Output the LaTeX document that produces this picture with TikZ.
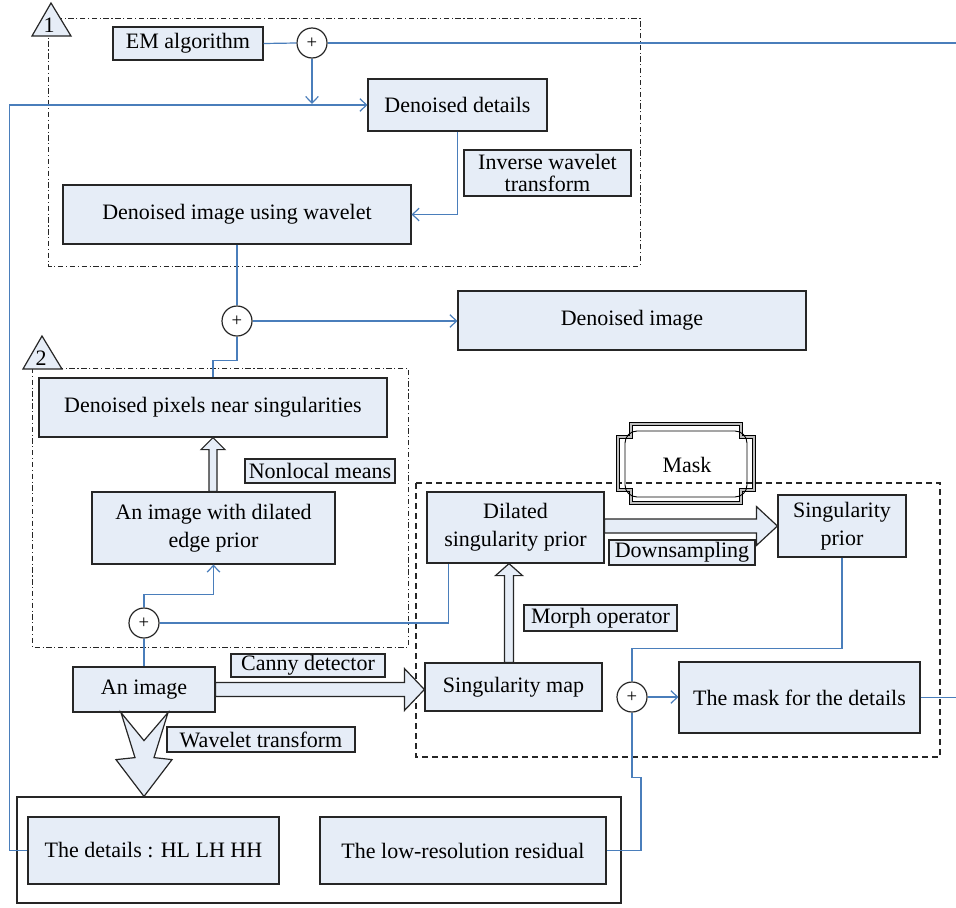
\documentclass[tikz,border=0pt]{standalone}
\usepackage{fontspec}
\setmainfont{Liberation Serif}
\usetikzlibrary{arrows.meta,calc}
\definecolor{boxfill}{HTML}{E6EDF7}
\definecolor{lineblue}{HTML}{4A7EBB}
\tikzset{
  box/.style={draw=black!85, fill=boxfill, line width=0.9pt, align=center, inner sep=1pt, font=\fontsize{16.5}{21}\selectfont},
  lbl/.style={box, line width=0.8pt},
  plus/.style={circle, draw=black!85, fill=white, line width=0.9pt, minimum size=22.5pt, inner sep=0pt, font=\fontsize{14}{14}\selectfont},
  conn/.style={draw=lineblue, line width=0.9pt},
  arr/.style={conn, -{Straight Barb[length=5pt,width=9.5pt]}},
  hollow/.style={draw=black!85, fill=boxfill, line width=0.9pt, line join=miter},
  dashdot/.style={draw=black!85, line width=0.75pt, dash pattern=on 4pt off 2pt on 0.8pt off 2pt},
  dashbox/.style={draw=black!85, line width=0.8pt, dash pattern=on 4.5pt off 3pt},
  tri/.style={font=\fontsize{16.5}{16.5}\selectfont, inner sep=0pt},
}
\begin{document}
\begin{tikzpicture}[x=0.75pt,y=-0.75pt]
\useasboundingbox (0,0) rectangle (956,907);

% region frames
\draw[dashdot] (48,18) rectangle (640,266);
\draw[dashdot] (32,368) rectangle (408,647);
\draw[dashbox] (416,483) rectangle (940,757);

% triangles
\draw[hollow] (32,36) -- (51,3) -- (71,36) -- cycle;
\node[tri] (t1) at (49,25) {1};
\draw[hollow] (23,369) -- (42,336) -- (62,369) -- cycle;
\node[tri] (t2) at (41,358) {2};

% mask tag
\draw[black, line width=0.55pt, double=black!25, double distance=1.5pt]
  (631,424) -- (741,424) -- (741,437) -- (754,437) -- (754,490) -- (741,490) -- (741,503)
  -- (631,503) -- (631,490) -- (618,490) -- (618,437) -- (631,437) -- cycle;
\draw[black, line width=0.7pt, rounded corners=9pt] (625,431) rectangle (747,497);
\node[font=\fontsize{16.5}{16.5}\selectfont] (mask) at (687,465) {Mask};

% nodes
\node[box, minimum width=112.5pt, minimum height=24.75pt] (em) at (188,43.5) {EM algorithm};
\node[plus] (c1) at (312,43) {+};
\node[box, minimum width=134.25pt, minimum height=39pt] (dd) at (457.5,105) {Denoised details};
\node[lbl, minimum width=125.25pt, minimum height=34.5pt, font=\fontsize{16.5}{16}\selectfont] (iwt) at (547.5,173) {Inverse wavelet\\transform};
\node[box, minimum width=261pt, minimum height=44.25pt] (diw) at (237,214.5) {Denoised image using wavelet};
\node[plus] (c2) at (237,321) {+};
\node[box, minimum width=261pt, minimum height=44.25pt] (di) at (632,320.5) {Denoised image};
\node[box, minimum width=261pt, minimum height=44.25pt] (dp) at (213,407.5) {Denoised pixels near singularities};
\node[lbl, minimum width=112.5pt, minimum height=18pt] (nlm) at (320,471) {Nonlocal means};
\node[box, minimum width=182.25pt, minimum height=54pt] (aid) at (213.5,528) {An image with dilated\\edge prior};
\node[plus] (c3) at (144,623) {+};
\node[box, minimum width=132.75pt, minimum height=53.25pt] (dsp) at (515.5,527.5) {Dilated\\singularity prior};
\node[box, minimum width=96pt, minimum height=46.5pt] (sp) at (842,526) {Singularity\\prior};
\node[lbl, minimum width=109.5pt, minimum height=18.75pt] (ds) at (682,552.5) {Downsampling};
\node[lbl, minimum width=114.75pt, minimum height=19.5pt] (mo) at (600.5,618) {Morph operator};
\node[box, minimum width=132.75pt, minimum height=36pt] (sm) at (513.5,687) {Singularity map};
\node[plus] (c4) at (632,697) {+};
\node[box, minimum width=180.75pt, minimum height=53.25pt] (mfd) at (799.5,697.5) {The mask for the details};
\node[box, minimum width=106.5pt, minimum height=33.75pt] (ai) at (144,689.5) {An image};
\node[lbl, minimum width=115.5pt, minimum height=17.25pt] (cd) at (308,665.5) {Canny detector};
\node[lbl, minimum width=141pt, minimum height=18.75pt] (wt) at (261,739.5) {Wavelet transform};
\node[draw=black!85, line width=0.9pt, minimum width=453pt, minimum height=79.5pt, inner sep=0pt] (outer) at (319,850) {};
\node[box, minimum width=188.25pt, minimum height=50.25pt] (det) at (153.5,850.5) {The details : HL LH HH};
\node[box, minimum width=214.5pt, minimum height=50.25pt] (res) at (463,850.5) {The low-resolution residual};

\coordinate (e1) at (956,43);
\coordinate (e2) at (956,697.5);
\coordinate (j1) at (312,104);

% thin connectors
\draw[conn] (em.east) -- (c1.west);
\draw[conn] (c1.east) -- (e1);
\draw[arr] (c1.south) -- (j1);
\draw[arr] (det.west) -- ++(-18,0) |- (dd.west);
\draw[arr] (dd.south) |- (diw.east);
\draw[conn] (diw.south) -- (c2.north);
\draw[arr] (c2.east) -- (c2.east -| di.west);
\draw[conn] (c2.south) -- ++(0,24) -| (dp.north);
\draw[arr] (c3.north) -- ++(0,-13) -| (aid.south);
\draw[conn] (c3.east) -| ([xshift=16.5pt]dsp.south west);
\draw[conn] (c3.south) -- (ai.north);
\draw[conn] (sp.south) -- ++(0,91) -| (c4.north);
\draw[arr] (c4.east) -- (c4.east -| mfd.west);
\draw[conn] (mfd.east) -- (e2);
\draw[conn] (c4.south) -- ++(0,65) -- ++(9,0) |- (res.east);

% hollow arrows
% nonlocal means: aid -> dp
\draw[hollow] ($(aid.north)+(-4.5,0)$) -- ($(dp.south)+(-4,12)$) -- ($(dp.south)+(-12,12)$) -- (dp.south)
  -- ($(dp.south)+(12,12)$) -- ($(dp.south)+(4,12)$) -- ($(aid.north)+(3.5,0)$) -- cycle;
% morph: sm -> dsp
\coordinate (mb) at ($(sm.north)+(-4.5,0)$);
\coordinate (mt) at (mb |- dsp.south);
\draw[hollow] ($(mb)+(-4.5,0)$) -- ($(mt)+(-4.5,12)$) -- ($(mt)+(-13.5,12)$) -- (mt)
  -- ($(mt)+(13.5,12)$) -- ($(mt)+(4.5,12)$) -- ($(mb)+(4.5,0)$) -- cycle;
% downsampling: dsp -> sp
\coordinate (db) at (dsp.east |- sp.west);
\draw[hollow] ($(db)+(0,-7)$) -- ($(sp.west)+(-21,-7)$) -- ($(sp.west)+(-21,-19.5)$) -- (sp.west)
  -- ($(sp.west)+(-21,19.5)$) -- ($(sp.west)+(-21,7)$) -- ($(db)+(0,7)$) -- cycle;
% canny: ai -> sm
\coordinate (cb) at (ai.east);
\coordinate (ct) at (sm.west |- ai.east);
\draw[hollow] ($(cb)+(0,-7)$) -- ($(ct)+(-20,-7)$) -- ($(ct)+(-20,-21)$) -- (ct)
  -- ($(ct)+(-20,21)$) -- ($(ct)+(-20,7)$) -- ($(cb)+(0,7)$) -- cycle;
% wavelet transform: ai -> outer
\coordinate (wb) at (ai.south);
\coordinate (wtip) at (ai.south |- outer.north);
\draw[hollow] ($(wb)+(-23,0)$) -- ($(wb)+(0,28)$) -- ($(wb)+(24,0)$) -- ($(wb)+(10,45)$)
  -- ($(wb)+(28,47)$) -- (wtip) -- ($(wb)+(-28,47)$) -- ($(wb)+(-9,45)$) -- cycle;
\end{tikzpicture}
\end{document}
